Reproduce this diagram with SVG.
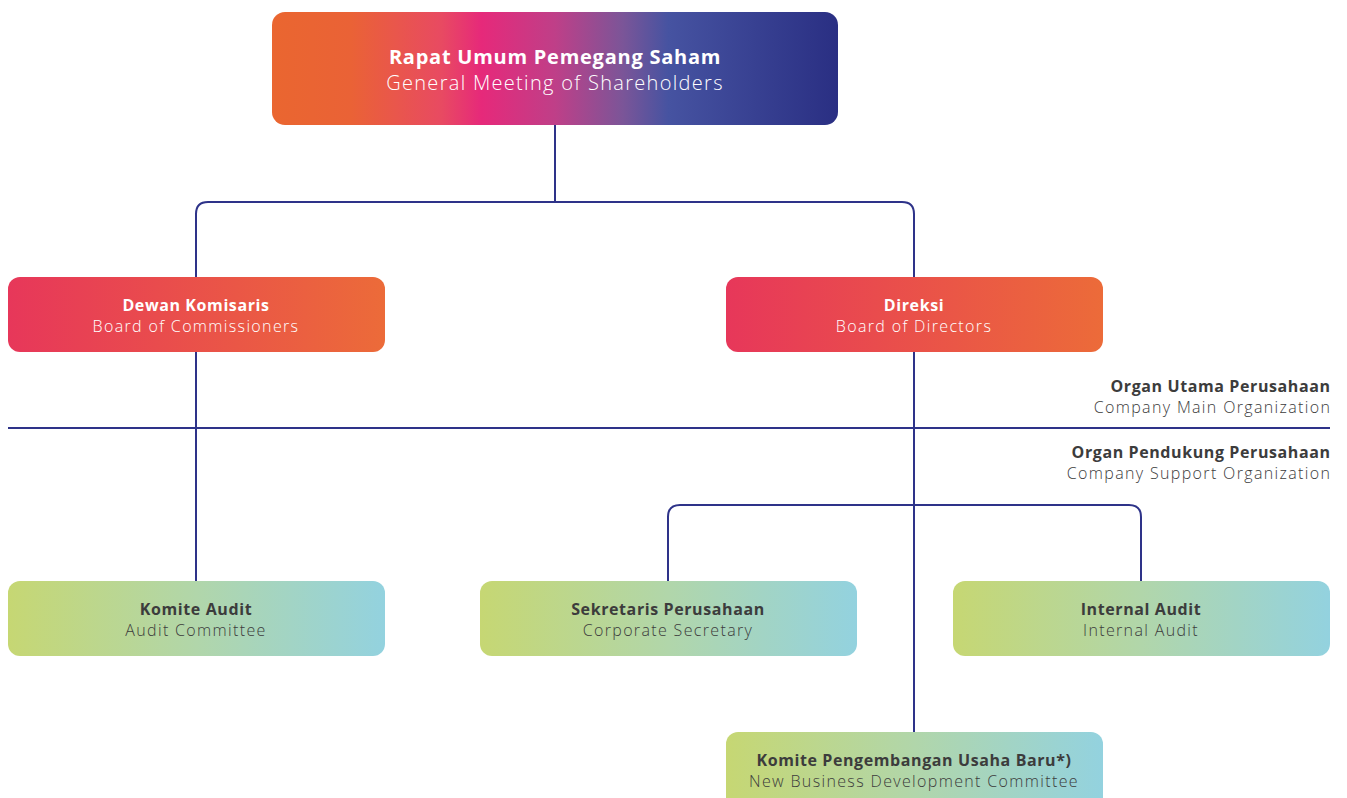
<svg xmlns="http://www.w3.org/2000/svg" width="1347" height="798" viewBox="0 0 1347 798">
<defs>
<linearGradient id="gTop" x1="0" y1="0" x2="1" y2="0">
<stop offset="0" stop-color="#EA6630"/>
<stop offset="0.14" stop-color="#EA6236"/>
<stop offset="0.3" stop-color="#E84A62"/>
<stop offset="0.37" stop-color="#E6297A"/>
<stop offset="0.5" stop-color="#BF3F88"/>
<stop offset="0.62" stop-color="#7B5598"/>
<stop offset="0.7" stop-color="#4653A1"/>
<stop offset="1" stop-color="#2A2F83"/>
</linearGradient>
<linearGradient id="gRed" x1="0" y1="0" x2="1" y2="0">
<stop offset="0" stop-color="#E7375A"/>
<stop offset="1" stop-color="#EC6B39"/>
</linearGradient>
<linearGradient id="gGreen" x1="0" y1="0" x2="1" y2="0">
<stop offset="0" stop-color="#C6D773"/>
<stop offset="0.5" stop-color="#B1D6AA"/>
<stop offset="1" stop-color="#93D2DF"/>
</linearGradient>
</defs>
<style>
text{font-family:"Open Sans","Noto Sans","Liberation Sans",sans-serif;text-anchor:middle}
.b{font-weight:700;letter-spacing:0.6px}
.l{font-weight:300;letter-spacing:1.35px}
.w{fill:#FFFFFF}
.d{fill:#3C3C3C}
.r{text-anchor:end;fill:#3C3C3C}
.top{font-size:20px}
.top.b{letter-spacing:0.75px}
.top.l{letter-spacing:1.3px}
.n{font-size:16px}
.conn{fill:none;stroke:#2E3389;stroke-width:2}
</style>
<rect width="1347" height="798" fill="#FFFFFF"/>
<g id="connectors">
<path class="conn" d="M555 125 V202"/>
<path class="conn" d="M196 277 V214 Q196 202 208 202 H902 Q914 202 914 214 V277"/>
<path class="conn" d="M196 352 V581"/>
<path class="conn" d="M914 352 V732"/>
<path class="conn" d="M668 581 V517 Q668 505 680 505 H1129 Q1141 505 1141 517 V581"/>
<path class="conn" d="M8 428 H1330"/>
</g>
<g id="rups">
<rect x="272" y="12" width="566" height="113" rx="13" fill="url(#gTop)"/>
<text class="b w top" x="555" y="64">Rapat Umum Pemegang Saham</text>
<text class="l w top" x="555" y="90">General Meeting of Shareholders</text>
</g>
<g id="dekom">
<rect x="8" y="277" width="377" height="75" rx="12" fill="url(#gRed)"/>
<text class="b w n" x="196" y="311">Dewan Komisaris</text>
<text class="l w n" x="196" y="332">Board of Commissioners</text>
</g>
<g id="direksi">
<rect x="726" y="277" width="377" height="75" rx="12" fill="url(#gRed)"/>
<text class="b w n" x="914" y="311">Direksi</text>
<text class="l w n" x="914" y="332">Board of Directors</text>
</g>
<g id="label-main">
<text class="b r n" x="1330.6" y="392">Organ Utama Perusahaan</text>
<text class="l r n" x="1331.3" y="413">Company Main Organization</text>
</g>
<g id="label-support">
<text class="b r n" x="1330.6" y="458">Organ Pendukung Perusahaan</text>
<text class="l r n" x="1331.3" y="479">Company Support Organization</text>
</g>
<g id="komite-audit">
<rect x="8" y="581" width="377" height="75" rx="12" fill="url(#gGreen)"/>
<text class="b d n" x="196" y="615">Komite Audit</text>
<text class="l d n" x="196" y="636">Audit Committee</text>
</g>
<g id="sekper">
<rect x="480" y="581" width="377" height="75" rx="12" fill="url(#gGreen)"/>
<text class="b d n" x="668" y="615">Sekretaris Perusahaan</text>
<text class="l d n" x="668" y="636">Corporate Secretary</text>
</g>
<g id="internal-audit">
<rect x="953" y="581" width="377" height="75" rx="12" fill="url(#gGreen)"/>
<text class="b d n" x="1141" y="615">Internal Audit</text>
<text class="l d n" x="1141" y="636">Internal Audit</text>
</g>
<g id="kpub">
<rect x="726" y="732" width="377" height="80" rx="12" fill="url(#gGreen)"/>
<text class="b d n" x="914" y="766">Komite Pengembangan Usaha Baru*)</text>
<text class="l d n" x="914" y="787">New Business Development Committee</text>
</g>
</svg>
